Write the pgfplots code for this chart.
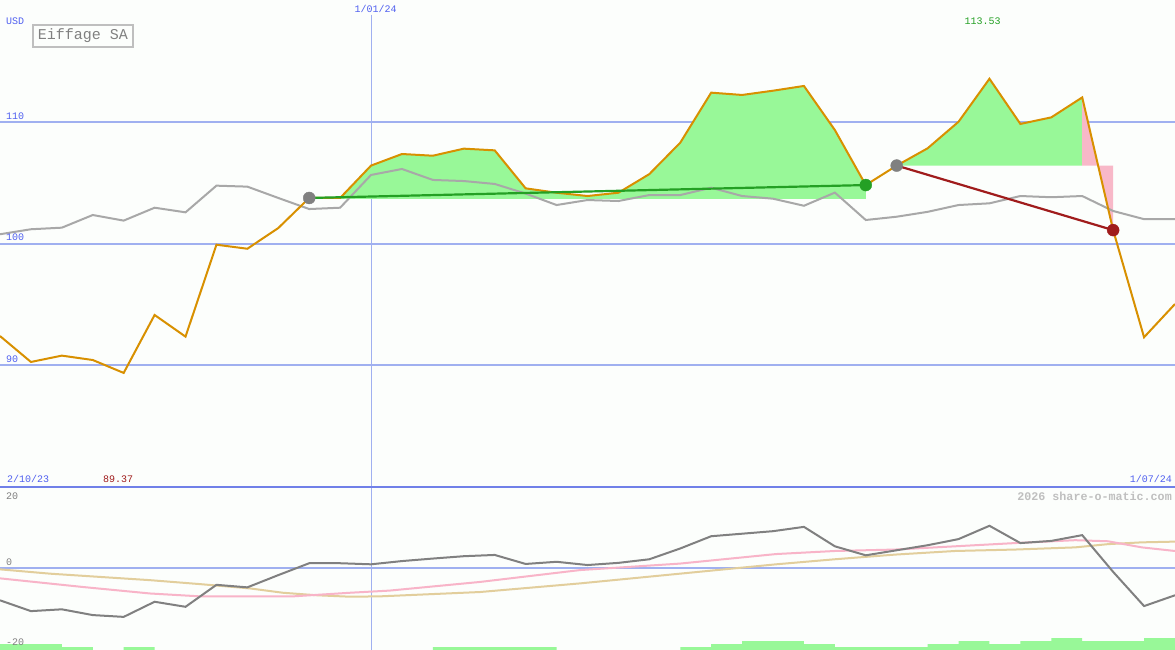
\documentclass[border=0pt]{standalone}
\usepackage{pgfplots}
\pgfplotsset{compat=1.18}
\usepackage{fontspec}
\setmainfont{Liberation Mono}

\definecolor{bg}{RGB}{252,254,252}
\definecolor{gridblue}{RGB}{160,176,240}
\definecolor{divider}{RGB}{112,128,232}
\definecolor{lbl}{RGB}{80,96,240}
\definecolor{price}{RGB}{216,144,0}
\definecolor{avg}{RGB}{168,168,168}
\definecolor{gain}{RGB}{152,248,152}
\definecolor{loss}{RGB}{248,184,200}
\definecolor{trend}{RGB}{36,160,36}
\definecolor{drop}{RGB}{160,28,28}
\definecolor{osc}{RGB}{128,128,128}
\definecolor{sigpink}{RGB}{248,180,200}
\definecolor{sigtan}{RGB}{226,206,156}

% weekly closes, moving average and oscillator, week 0 = 2/10/23
\pgfplotstableread{
w price avg osc
0 92.40 100.76 -9.0
1 90.27 101.17 -12.0
2 90.79 101.30 -11.5
3 90.43 102.34 -13.1
4 89.37 101.88 -13.6
5 94.13 102.94 -9.4
6 92.35 102.56 -10.8
7 99.90 104.75 -4.7
8 99.57 104.67 -5.4
9 101.27 103.74 -2.0
10 103.74 102.83 1.3
11 103.74 102.94 1.3
12 106.40 105.63 1.0
13 107.35 106.12 1.9
14 107.21 105.22 2.6
15 107.79 105.13 3.25
16 107.65 104.89 3.6
17 104.53 104.10 1.1
18 104.17 103.16 1.7
19 103.90 103.57 0.8
20 104.17 103.49 1.4
21 105.70 103.98 2.4
22 108.28 103.98 5.4
23 112.39 104.58 8.8
24 112.20 103.90 9.5
25 112.55 103.68 10.2
26 112.94 103.10 11.4
27 109.32 104.18 6.0
28 104.80 101.93 3.5
29 106.40 102.20 4.9
30 107.82 102.60 6.3
31 110.00 103.16 8.0
32 113.53 103.30 11.7
33 109.82 103.90 6.9
34 110.36 103.80 7.5
35 112.00 103.90 9.1
36 101.10 102.67 -1.1
37 92.30 102.00 -10.6
38 95.03 102.00 -7.6
}\weekly

\begin{document}
\begin{tikzpicture}
\useasboundingbox (0pt,0pt) rectangle (1175pt,-650pt);
\fill[bg] (0pt,0pt) rectangle (1175pt,-650pt);

% ---- price panel
\begin{axis}[name=main, at={(0pt,0pt)}, anchor=north west,
  width=1175pt, height=487pt, scale only axis,
  xmin=0, xmax=38, ymin=80, ymax=120, hide axis, clip=false]
  \draw[gridblue, line width=2pt] (axis cs:0,110) -- (axis cs:38,110);
  \draw[gridblue, line width=2pt] (axis cs:0,100) -- (axis cs:38,100);
  \draw[gridblue, line width=2pt] (axis cs:0,90) -- (axis cs:38,90);
  \draw[gridblue, line width=1pt] (axis cs:12,118.8) -- (axis cs:12,80);

  % gain above entry price, first holding (weeks 10-28)
  \addplot[fill=gain, draw=none] coordinates {
    (10,103.66) (10,103.74) (11,103.74) (12,106.40) (13,107.35) (14,107.21)
    (15,107.79) (16,107.65) (17,104.53) (18,104.17) (19,103.90) (20,104.17)
    (21,105.70) (22,108.28) (23,112.39) (24,112.20) (25,112.55) (26,112.94)
    (27,109.32) (28,104.80) (28,103.66)} -- cycle;
  % second holding (weeks 29-36)
  \addplot[fill=gain, draw=none] coordinates {
    (29,106.40) (30,107.82) (31,110.00) (32,113.53) (33,109.82) (34,110.36)
    (35,112.00) (35,106.40)} -- cycle;
  \addplot[fill=loss, draw=none] coordinates {
    (35,106.40) (35,112.00) (36,101.10) (36,106.40)} -- cycle;

  \addplot[avg, line width=2pt] table[x=w, y=avg] {\weekly};
  \addplot[price, line width=2pt] table[x=w, y=price] {\weekly};

  \addplot[trend, line width=2.2pt] coordinates {(10,103.74) (28,104.8)};
  \addplot[drop, line width=2.2pt] coordinates {(29,106.4) (36,101.1)};
  \addplot[only marks, mark=*, mark size=6pt, mark options={fill=osc, draw=osc}] coordinates {(10,103.74) (29,106.4)};
  \addplot[only marks, mark=*, mark size=6pt, mark options={fill=trend, draw=trend}] coordinates {(28,104.8)};
  \addplot[only marks, mark=*, mark size=6pt, mark options={fill=drop, draw=drop}] coordinates {(36,101.1)};
\end{axis}

% ---- volume strip
\begin{axis}[at={(0pt,-487pt)}, anchor=north west,
  width=1175pt, height=163pt, scale only axis,
  xmin=0, xmax=38, ymin=0, ymax=54.33, hide axis, clip=false]
  \addplot[const plot, fill=gain, draw=none] coordinates {
    (0,2) (1,2) (2,1) (3,0) (4,1) (5,0) (6,0) (7,0) (8,0) (9,0)
    (10,0) (11,0) (12,0) (13,0) (14,1) (15,1) (16,1) (17,1) (18,0) (19,0)
    (20,0) (21,0) (22,1) (23,2) (24,3) (25,3) (26,2) (27,1) (28,1) (29,1)
    (30,2) (31,3) (32,2) (33,3) (34,4) (35,3) (36,3) (37,4) (38,4)} \closedcycle;
\end{axis}

% ---- oscillator panel
\begin{axis}[at={(0pt,-487pt)}, anchor=north west,
  width=1175pt, height=163pt, scale only axis,
  xmin=0, xmax=38, ymin=-22.8, ymax=22.47, hide axis, clip=false]
  \draw[gridblue, line width=2pt] (axis cs:0,0) -- (axis cs:38,0);
  \draw[gridblue, line width=1pt] (axis cs:12,22.47) -- (axis cs:12,-22.8);
  \draw[divider, line width=2pt] (axis cs:0,22.47) -- (axis cs:38,22.47);

  \addplot[sigtan, line width=2pt] coordinates {
    (0,-0.4) (1.62,-1.6) (3.23,-2.5) (4.85,-3.4) (6.47,-4.5) (8.09,-5.7)
    (9.15,-6.9) (10.25,-7.6) (11.32,-8.0) (12.29,-7.9) (15.52,-6.7)
    (18.76,-4.3) (21.99,-1.6) (25.1,1.0) (27.0,2.4) (28.95,3.7) (30.89,4.7)
    (32.83,5.1) (34.77,5.7) (35.83,6.6) (36.93,7.1) (38,7.3)};
  \addplot[sigpink, line width=2pt] coordinates {
    (0,-2.9) (2.68,-5.3) (4.85,-7.1) (6.47,-7.9) (9.48,-7.9) (11.32,-6.9)
    (12.6,-6.3) (15.52,-3.9) (18.76,-0.6) (21.99,1.2) (25.1,3.85) (27.0,4.7)
    (28.95,5.1) (30.89,6.0) (32.83,6.9) (34.77,7.7) (35.83,7.4) (36.93,5.7)
    (38,4.7)};
  \addplot[osc, line width=2pt] table[x=w, y=osc] {\weekly};
\end{axis}

% ---- texts
\begin{scope}[every node/.style={inner sep=0pt, font=\fontsize{10}{12}\selectfont}]
  \node[lbl, anchor=west] at (6pt,-21pt) {USD};
  \node[lbl] at (375.5pt,-9pt) {1/01/24};
  \node[lbl, anchor=west] at (6pt,-116pt) {110};
  \node[lbl, anchor=west] at (6pt,-237.5pt) {100};
  \node[lbl, anchor=west] at (6pt,-359pt) {90};
  \node[trend] at (982.5pt,-21pt) {113.53};
  \node[lbl, anchor=west] at (7pt,-479pt) {2/10/23};
  \node[drop, anchor=west] at (103pt,-479pt) {89.37};
  \node[lbl, anchor=east] at (1172pt,-479pt) {1/07/24};
  \node[osc, anchor=west] at (6pt,-496pt) {20};
  \node[osc, anchor=west] at (6pt,-562pt) {0};
  \node[osc, anchor=west] at (6pt,-642pt) {-20};
  \node[gray!50, anchor=east, font=\fontsize{11.7}{13}\selectfont\bfseries] at (1172pt,-496pt) {2026 share-o-matic.com};
\end{scope}
\draw[gray!50, line width=2pt] (33pt,-25pt) rectangle (133pt,-47pt);
\node[osc, inner sep=0pt, font=\fontsize{15}{17}\selectfont] at (83pt,-36pt) {Eiffage SA};
\end{tikzpicture}
\end{document}
